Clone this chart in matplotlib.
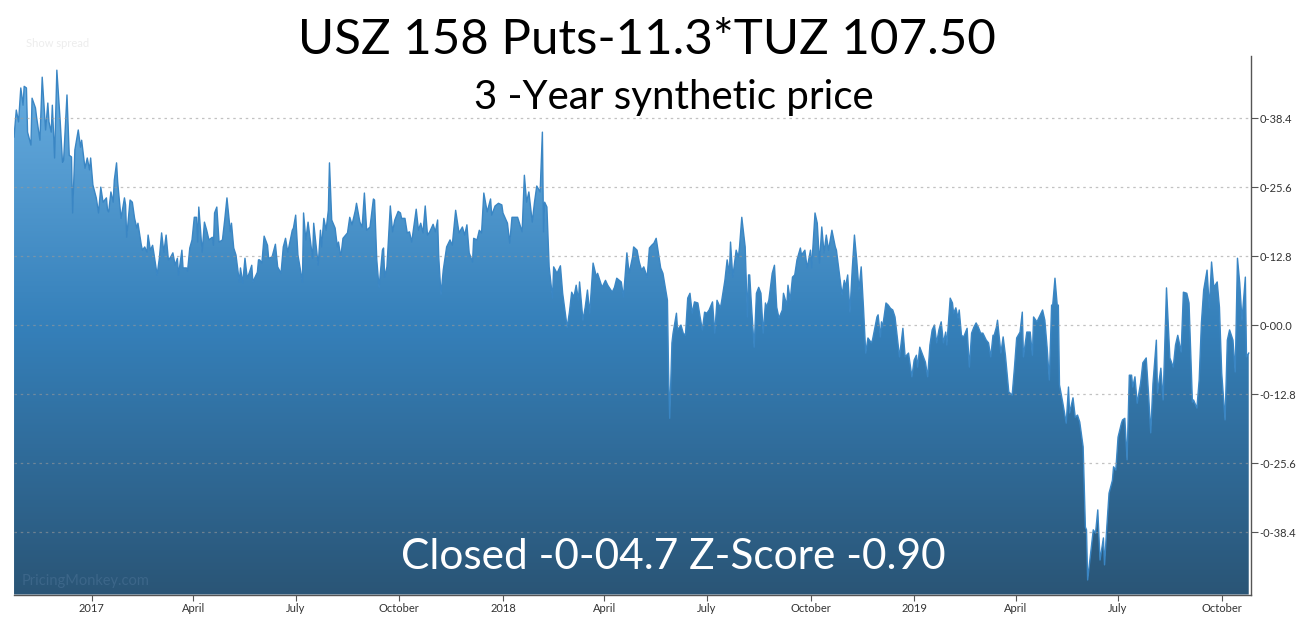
import numpy as np
import matplotlib
matplotlib.use("Agg")
import matplotlib.pyplot as plt
import matplotlib.dates as mdates
from matplotlib.colors import LinearSegmentedColormap

# Series start date, days after start and the synthetic price
start_date = np.datetime64("2016-10-24")

days = [
    0, 2, 4, 6, 8, 9, 11, 12, 15, 16, 19, 20, 23, 25, 26, 28, 30, 31, 33, 34,
    36, 38, 41, 43, 44, 47, 49, 51, 52, 54, 57, 59, 60, 63, 65, 67, 68, 70, 73, 75,
    77, 79, 82, 83, 84, 86, 88, 89, 91, 92, 95, 98, 99, 100, 103, 105, 107, 109, 110, 113,
    114, 116, 118, 119, 121, 123, 124, 127, 129, 131, 133, 135, 137, 139, 141, 143, 145, 146, 149, 150,
    153, 154, 156, 158, 160, 162, 163, 164, 167, 169, 171, 173, 176, 177, 178, 180, 182, 185, 186, 187,
    189, 192, 193, 195, 197, 200, 201, 203, 205, 207, 209, 211, 212, 216, 217,
    218, 220, 222, 225, 226, 229, 232, 234, 237, 239, 241, 243, 247, 248, 250, 252, 256, 257, 259, 261,
    265, 266, 270, 272, 273, 275, 277, 279, 280, 282, 285, 287, 288, 290, 292, 296, 298, 300, 303, 304,
    307, 309, 311, 313, 316, 319, 320, 322, 324, 327, 328, 329, 331, 334, 336, 338, 341, 343, 344, 347,
    349, 351, 353, 357, 359, 361, 363, 365, 367, 369, 372, 374, 376, 377, 379, 381, 384, 387, 389, 392,
    395, 398, 400, 402, 404, 407, 408, 411, 413, 415, 417, 420, 423, 424, 427, 430, 433,
    434, 438, 440, 442, 445, 447, 451, 453, 455, 457, 460, 462, 464, 467, 469, 470, 471, 473, 475, 478,
    479, 482, 485, 487, 491, 493, 495, 497, 499, 501, 502, 505, 507, 509, 511, 514, 517, 518, 522, 525,
    527, 531, 533, 535, 539, 541, 544, 546, 549, 550, 553, 555, 557, 559, 562, 564, 566, 568, 570, 572,
    574, 576, 580, 581, 582, 584, 585, 588, 589, 592, 594, 596, 598, 600, 602, 604, 607, 609, 611, 613,
    615, 617, 620, 622, 624, 627, 628, 631, 633, 635, 636, 638, 641, 643, 644, 646, 649, 651, 652,
    653, 655, 657, 659, 661, 663, 665, 667, 668, 670, 673, 675, 677, 679, 682, 683, 686, 687, 689, 691,
    693, 695, 698, 699, 702, 704, 707, 708, 711, 713, 715, 717, 719, 721, 723, 726, 729, 730, 733, 735,
    737, 738, 740, 742, 744, 746, 748, 750, 752, 754, 756, 758, 761, 762, 766, 767, 769, 770, 771, 774,
    776, 778, 780, 782, 785, 786, 789, 791, 794, 797, 799, 801, 802, 804, 806, 809, 811, 813, 815, 817,
    819, 821, 823, 825, 827, 828, 831, 833, 834, 836, 838, 839, 841, 843, 846, 848, 850, 852, 854, 856,
    858, 860, 863, 865, 867, 869,
    870, 872, 873, 876, 878, 880, 883, 886, 888, 890, 893, 895, 896, 899, 902, 904, 905, 908, 911, 913,
    915, 917, 919, 921, 922, 924, 926, 927, 928, 931, 934, 936, 937, 940, 942, 944, 946, 949, 951, 952,
    953, 956, 958, 960, 962, 964, 967, 968, 970, 972, 975, 976, 978, 980, 983, 984, 986, 988, 990, 992,
    993, 995, 997, 1000, 1002, 1005, 1007, 1009, 1011, 1014, 1015, 1018, 1020, 1023, 1026, 1029, 1031, 1033, 1036, 1038,
    1041, 1043, 1046, 1047, 1050, 1052, 1054, 1056, 1059, 1061, 1063, 1065, 1068, 1070, 1072, 1075, 1077, 1079, 1082, 1084,
    1086, 1088, 1090, 1093, 1094, 1096,
]

prices = [
    34.9, 39.9, 37.7, 44.0, 40.8, 44.3, 44.0, 35.8, 33.4, 42.1, 40.3, 38.6, 34.3, 46.0, 42.7, 36.2, 41.2, 37.7, 35.8, 40.8,
    31.0, 47.3, 37.7, 30.2, 30.6, 42.7, 31.5, 31.2, 20.8, 32.5, 36.2, 33.0, 34.3, 29.1, 31.0, 28.8, 31.0, 26.0, 23.6, 20.8,
    25.6, 22.8, 23.6, 21.3, 21.0, 24.7, 22.8, 26.9, 30.1, 26.5, 19.8, 23.6, 22.3, 16.3, 23.2, 22.8, 19.8, 18.0, 18.9, 14.8,
    13.9, 14.5, 13.5, 16.7, 13.9, 14.8, 13.5, 9.3, 12.4, 17.1, 13.5, 16.7, 12.1, 12.6, 13.4, 11.1, 12.4, 9.3, 13.9, 10.6,
    10.6, 10.0, 14.3, 15.8, 20.0, 20.0, 15.4, 21.9, 13.5, 19.1, 17.6, 15.8, 16.3, 14.8, 20.8, 21.9, 15.4, 15.8, 17.6, 19.5,
    23.6, 17.3, 18.9, 14.3, 13.0, 8.0, 10.6, 7.8, 12.4, 8.7, 9.8, 11.1, 8.0, 9.8, 12.1,
    12.1, 11.5, 16.5, 14.8, 12.4, 12.6, 15.0, 10.8, 9.6, 14.5, 16.1, 13.5, 17.6, 18.0, 20.4, 13.0, 8.0, 20.8, 15.8, 19.1,
    12.4, 18.9, 11.1, 17.6, 14.5, 19.8, 17.6, 21.3, 30.1, 19.5, 18.0, 14.5, 15.4, 12.6, 16.1, 17.1, 20.0, 18.6, 21.3, 22.6,
    19.1, 18.2, 24.5, 17.6, 18.2, 23.4, 23.2, 12.1, 6.9, 13.9, 14.3, 8.9, 10.8, 22.1, 17.3, 19.5, 21.1, 20.8, 19.8, 19.8,
    17.1, 17.3, 15.4, 21.5, 17.6, 18.9, 17.1, 22.1, 16.7, 17.3, 18.7, 17.3, 19.5, 12.6, 5.6, 10.2, 14.5, 15.8, 14.8, 21.3,
    17.1, 18.2, 16.7, 18.6, 13.4, 11.7, 16.1, 15.8, 17.6, 17.1, 24.5, 21.0, 23.4, 20.4, 22.1, 22.6, 22.3,
    20.8, 18.9, 15.2, 20.0, 20.0, 20.0, 17.3, 27.8, 22.8, 24.7, 19.1, 22.8, 25.8, 24.7, 35.8, 17.3, 22.8, 21.9, 10.8, 5.0,
    10.8, 9.6, 11.0, 5.9, -0.4, 2.4, 6.1, 5.2, 7.4, 4.6, 8.0, 0.9, 3.3, 6.5, 2.2, 11.5, 8.9, 9.6, 7.0, 8.3,
    7.4, 6.1, 7.0, 8.7, 8.0, 5.2, 13.4, 9.6, 12.6, 14.5, 13.9, 11.7, 10.2, 10.8, 8.9, 14.3, 14.8, 15.2, 16.1, 13.4,
    10.6, 9.6, 4.6, -8.9, -17.3, -3.3, -1.5, 2.2, -0.9, 0.0, -1.5, -1.9, 5.0, 5.9, 2.2, 4.3, 4.1, 1.5, -0.9, 2.4,
    2.2, 2.8, 4.3, -1.5, 4.6, 3.2, 4.3, 8.3, 12.1, 9.6, 15.4, 8.9, 13.9, 12.6, 14.5, 20.0, 14.5, 1.5, 9.3,
    9.3, 2.2, -4.1, 5.9, 7.0, 5.9, -1.5, 4.1, 3.3, 4.6, 9.6, 11.1, 3.3, 1.3, 2.8, 5.9, 3.7, 7.4, 4.6, 8.9,
    9.3, 12.1, 14.3, 13.0, 13.9, 10.6, 13.9, 10.6, 20.8, 18.9, 11.5, 18.2, 13.4, 16.7, 13.9, 17.6, 14.5, 13.9, 8.9, 5.6,
    8.3, 7.0, 9.3, 2.4, 10.2, 16.7, 12.1, 6.5, 10.8, 3.3, -5.2, -2.4, -3.3, -2.8, 1.5, 1.9, -2.2, 0.6, -0.4, 4.1,
    3.7, 3.1, 2.8, 1.5, -4.1, -5.9, -0.6, -5.9, -5.2, -9.6, -6.5, -5.6, -7.8, -4.1, -5.2, -6.9, -9.6, -3.7, -0.9, 0.0,
    -3.3, -0.9, 0.6, -3.3, -1.3, -3.7, 5.0, 4.1, 2.2, 3.2, 1.3, 2.8, -1.9, -2.2, -0.6, -7.8, -1.5, -0.4, 0.4, -0.4,
    -1.5, -1.5, -2.8, -3.3, -5.9, -1.9,
    -1.9, -0.4, 0.9, -5.2, -2.2, -5.6, -12.4, -13.0, -8.0, -2.4, -1.3, 2.4, -5.9, -1.3, -1.3, -5.6, 1.5, 0.6, 1.9, 2.8,
    0.9, -4.1, -10.2, 3.7, 3.7, 8.7, 3.7, 3.7, -11.1, -14.5, -18.2, -11.5, -16.3, -13.5, -17.1, -16.7, -18.0, -22.6, -37.5, -38.0,
    -47.3, -41.7, -38.0, -38.6, -34.3, -43.6, -39.5, -44.5, -37.5, -31.2, -28.8, -26.3, -26.9, -20.8, -18.2, -17.6, -17.3, -25.0, -9.3, -9.3,
    -11.5, -9.6, -14.5, -10.8, -7.0, -6.1, -12.6, -20.0, -10.8, -2.8, -12.6, -8.0, -13.9, 6.9, -6.1, -7.8, -3.7, -1.9, -5.0, 6.1,
    5.9, 4.1, -14.3, -13.9, -15.4, -10.2, 0.4, 6.5, 10.2, 3.2, 11.7, 7.0, 8.0, 3.3, -8.9, -17.6, -2.8, -0.9, -2.8, -8.7,
    12.4, 7.8, 0.9, 8.9, -5.9, -5.2,
]

end_date = np.datetime64("2019-10-27")

# Axis ticks and their labels
y_ticks = [38.4, 25.6, 12.8, 0.0, -12.8, -25.6, -38.4]
y_tick_labels = ["0-38.4", "0-25.6", "0-12.8", "0-00.0", "-0-12.8", "-0-25.6", "-0-38.4"]
x_tick_dates = ["2017-01-01", "2017-04-01", "2017-07-01", "2017-10-01",
                "2018-01-01", "2018-04-01", "2018-07-01", "2018-10-01",
                "2019-01-01", "2019-04-01", "2019-07-01", "2019-10-01"]
x_tick_labels = ["2017", "April", "July", "October", "2018", "April", "July", "October",
                 "2019", "April", "July", "October"]

title = "USZ 158 Puts-11.3*TUZ 107.50"
subtitle = "3 -Year synthetic price"
closed_text = "Closed -0-04.7 Z-Score -0.90"

plt.rcParams["font.family"] = ["Lato", "DejaVu Sans"]


def to_num(d):
    # numpy datetime64 -> matplotlib date number
    return mdates.date2num(np.datetime64(d).astype("datetime64[ms]").astype(object))


dates = start_date + np.array(days).astype("timedelta64[D]")
x = np.array([to_num(d) for d in dates])
y = np.array(prices)
y_min, y_max = -50.0, 50.0
x0, x1 = to_num(start_date), to_num(end_date)

fig = plt.figure(figsize=(13, 6.18), dpi=100)
ax = fig.add_axes([0.0108, 0.038, 0.9515, 0.872])

# Area fill with a vertical gradient, clipped to the polygon under the line
fill = ax.fill_between(x, y, y_min, facecolor="none", edgecolor="none")
cmap = LinearSegmentedColormap.from_list(
    "blues", ["#2a5576", "#3580ba", "#6cb0e2"]
)
grad = np.linspace(0, 1, 256).reshape(-1, 1)
im = ax.imshow(grad, cmap=cmap, aspect="auto", origin="lower",
               extent=[x0, x1, y_min, y_max], zorder=1)
im.set_clip_path(fill.get_paths()[0], transform=ax.transData)
ax.plot(x, y, color="#3a86c4", lw=1.0, zorder=2)

ax.set_xlim(x0, x1)
ax.set_ylim(y_min, y_max)

# Grid lines
for t in y_ticks:
    ax.axhline(t, color="#9a9a9a", lw=0.9, ls=(0, (2, 3)), alpha=0.6, zorder=3)

# Right y axis
ax.yaxis.tick_right()
ax.set_yticks(y_ticks)
ax.set_yticklabels(y_tick_labels)
ax.tick_params(axis="y", length=5, width=0.8, color="#555555",
               labelsize=8, labelcolor="#333333", pad=1)

ax.set_xticks([to_num(d) for d in x_tick_dates])
ax.set_xticklabels(x_tick_labels)
ax.tick_params(axis="x", length=4, width=0.8, color="#555555",
               labelsize=8, labelcolor="#333333", pad=2)

for side in ["top", "left"]:
    ax.spines[side].set_visible(False)
for side in ["right", "bottom"]:
    ax.spines[side].set_color("#555555")
    ax.spines[side].set_linewidth(1.0)

# Titles and annotations
fig.text(0.498, 0.936, title, ha="center", va="center", fontsize=35.5, color="black")
fig.text(0.518, 0.842, subtitle, ha="center", va="center", fontsize=29, color="black")
fig.text(0.518, 0.099, closed_text, ha="center", va="center", fontsize=30.5,
         color="white", zorder=10)
fig.text(0.017, 0.06, "PricingMonkey.com", ha="left", va="center", fontsize=10.5,
         color="#3c6689", zorder=10)
fig.text(0.02, 0.93, "Show spread", ha="left", va="center", fontsize=8, color="#ededed")

plt.savefig("out.png", dpi=100)
plt.close()
